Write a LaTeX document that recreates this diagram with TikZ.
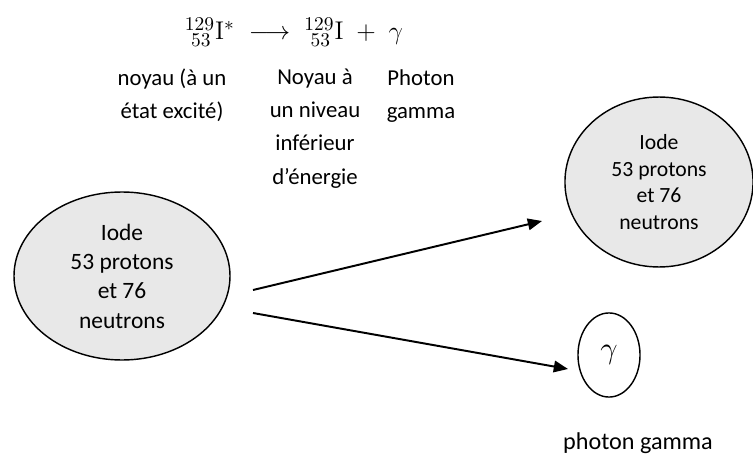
\documentclass[tikz,border=0pt]{standalone}
\usepackage[no-math]{fontspec}
\setmainfont{Carlito}
\usetikzlibrary{arrows.meta,shapes.geometric}

\begin{document}
\begin{tikzpicture}[x=0.5625pt, y=-0.5625pt,
    noyau/.style={ellipse, draw, line width=0.8pt, fill=black!9, align=center, inner sep=0pt},
    legende/.style={align=center, anchor=north, font=\fontsize{12.8}{18.6}\selectfont},
    fleche/.style={line width=1.1pt, -{Triangle[length=8pt, width=6.5pt]}}
    ]
    \useasboundingbox (0,0) rectangle (753,455);
    % equation
    \node[font=\fontsize{15.2}{17}\selectfont, inner sep=1pt] (eq) at (294,32)
      {${}^{129}_{\ 53}\mathrm{I}^{*} \;\longrightarrow\; {}^{129}_{\ 53}\mathrm{I} \;+\; \gamma$};
    \node[legende] (l1) at (172,63) {noyau (à un\\état excité)};
    \node[legende] (l2) at (315,63) {Noyau à\\un niveau\\inférieur\\d’énergie};
    \node[legende] (l3) at (421,63) {Photon\\gamma};
    % noyaux
    \node[noyau, minimum width=121.5pt, minimum height=94.5pt,
      font=\fontsize{13.2}{16.5}\selectfont] (avant) at (122,276)
      {Iode\\53 protons\\et 76\\neutrons};
    \node[noyau, minimum width=105.8pt, minimum height=95.6pt,
      font=\fontsize{12.2}{15}\selectfont] (apres) at (659,182)
      {Iode\\53 protons\\et 76\\neutrons};
    \node[ellipse, draw, line width=0.8pt, minimum width=34.9pt, minimum height=47.3pt,
      font=\fontsize{16}{18}\selectfont] (gam) at (609,355) {$\gamma$};
    \node[font=\fontsize{13.6}{16}\selectfont] (pg) at (638,443) {photon gamma};
    % fleches
    \coordinate (d1) at (253,290);
    \coordinate (f1) at (542,221);
    \coordinate (d2) at (253,313);
    \coordinate (f2) at (568,369);
    \draw[fleche] (d1) -- (f1);
    \draw[fleche] (d2) -- (f2);
\end{tikzpicture}
\end{document}
